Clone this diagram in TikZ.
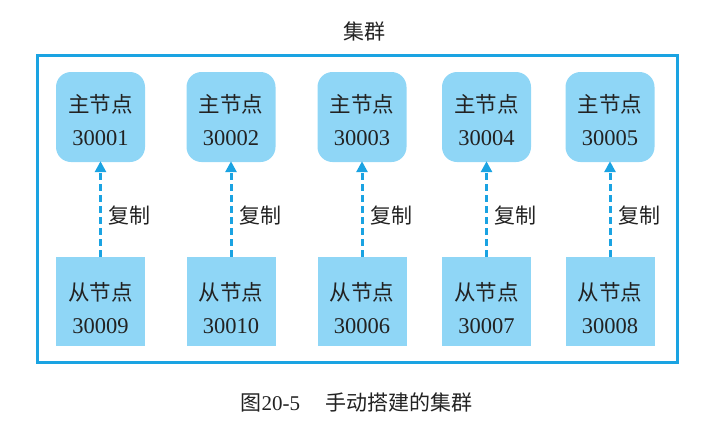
\documentclass[tikz,border=0pt]{standalone}
\usepackage{fontspec}
\setmainfont{Liberation Serif}
\newfontfamily\cjk{Noto Sans CJK SC}
\usetikzlibrary{arrows.meta}
\definecolor{frameblue}{HTML}{1AA3E2}
\definecolor{nodefill}{HTML}{8FD6F6}
\definecolor{txt}{HTML}{222222}
\begin{document}
\begin{tikzpicture}[x=1pt,y=-1pt,
  master/.style={fill=nodefill,rounded corners=15pt,minimum width=89pt,minimum height=90pt,inner sep=0pt},
  slave/.style={fill=nodefill,minimum width=89pt,minimum height=89pt,inner sep=0pt},
  ntext/.style={align=center,text=txt,inner sep=0pt,font=\fontsize{22.5}{33}\selectfont},
  repl/.style={draw=frameblue,line width=3pt,dash pattern=on 7pt off 4pt,-{Triangle[length=11pt,width=11pt]}},
  lbl/.style={text=txt,font=\cjk\fontsize{21}{24}\selectfont,anchor=west,inner sep=0pt}]
\useasboundingbox (0,0) rectangle (725,429);
\node[text=txt,font=\cjk\fontsize{21}{24}\selectfont] (title) at (364,31) {集群};
\draw[frameblue,line width=3pt] (37,55) rectangle (677,362);
\foreach \i/\x/\m/\s in {1/100.5/30001/30009,2/231/30002/30010,3/362/30003/30006,4/486.5/30004/30007,5/610/30005/30008}{
  \node[master] (m\i) at (\x,117) {};
  \node[ntext] (mt\i) at ([yshift=-3pt]m\i.center) {{\cjk\fontsize{21.5}{33}\selectfont 主节点}\\\m};
  \node[slave] (s\i) at (\x,301.5) {};
  \node[ntext] (st\i) at ([yshift=-7pt]s\i.center) {{\cjk\fontsize{21.5}{33}\selectfont 从节点}\\\s};
  \draw[repl] (s\i.north) -- ([yshift=1pt]m\i.south);
  \node[lbl] (l\i) at (\x+8,216) {复制};
}
\node[text=txt,font=\fontsize{21}{24}\selectfont] (cap) at (356.5,402) {{\cjk 图}20-5\hspace{1.2em}{\cjk 手动搭建的集群}};
\end{tikzpicture}
\end{document}
